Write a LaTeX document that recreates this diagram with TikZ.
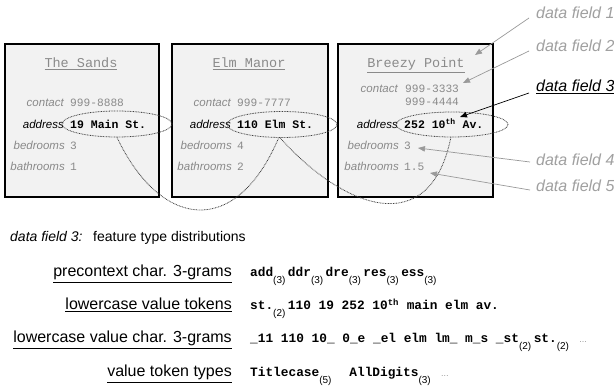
\documentclass[tikz,border=0pt]{standalone}
\usepackage{fontspec}
\setmainfont{Liberation Sans}
\setmonofont{Liberation Mono}
\usetikzlibrary{shapes.geometric,arrows.meta}
\definecolor{boxfill}{HTML}{F2F2F2}
\definecolor{lbl}{HTML}{8A8A8A}
\definecolor{fld}{HTML}{A0A0A0}
\definecolor{arr}{HTML}{9A9A9A}
\newcommand{\fs}[1]{\fontsize{#1}{#1}\selectfont}
\newcommand{\subn}[1]{\raisebox{-7pt}{\normalfont\mdseries\fs{10}#1}\hspace{2.5pt}}
\begin{document}
\begin{tikzpicture}[x=1pt,y=-1pt,
  box/.style={draw=black, line width=2pt, fill=boxfill, inner sep=0, minimum width=154pt, minimum height=153pt},
  ttl/.style={font=\ttfamily\fs{13.5}, text=lbl, inner sep=0, anchor=base},
  flab/.style={font=\itshape\fs{11.5}, text=lbl, anchor=base east, inner sep=0},
  fval/.style={font=\ttfamily\fs{11.2}, text=lbl, anchor=base west, inner sep=0},
  alab/.style={font=\itshape\fs{11.5}, text=black, anchor=base east, inner sep=0},
  aval/.style={font=\ttfamily\bfseries\fs{11.5}, text=black, anchor=base west, inner sep=0},
  ell/.style={ellipse, draw=black!75, dash pattern=on 0.8pt off 0.8pt, line width=0.8pt, inner sep=0},
  curve/.style={draw=black!75, dash pattern=on 0.8pt off 0.8pt, line width=0.8pt},
  df/.style={font=\itshape\fs{16}, text=fld, anchor=west, inner sep=1pt},
  darr/.style={draw=arr, line width=0.7pt, -{Triangle[length=7pt,width=5.5pt]}},
  rowlab/.style={font=\fs{16}, anchor=base east, inner sep=0},
  rowval/.style={font=\ttfamily\bfseries\fs{12.8}, anchor=base west, inner sep=0}
]
\useasboundingbox[fill=white] (0,0) rectangle (614,390);

% boxes
\node[box] (b1) at (82,120.5) {};
\node[box, minimum width=156pt] (b2) at (250,120.5) {};
\node[box, minimum width=155pt] (b3) at (415.5,120.5) {};

% titles
\node[ttl] (t1) at (81,68) {\underline{The Sands}};
\node[ttl] (t2) at (249,68) {\underline{Elm Manor}};
\node[ttl] (t3) at (416,68) {\underline{Breezy Point}};

% box 1
\node[flab] (c1l) at (64,107) {contact};
\node[fval] (c1v) at (70,107) {999-8888};
\node[alab] (a1l) at (64,129) {address};
\node[aval] (a1v) at (70,129) {19 Main St.};
\node[flab] (d1l) at (65,150) {bedrooms};
\node[fval] (d1v) at (70,150) {3};
\node[flab] (h1l) at (65,171) {bathrooms};
\node[fval] (h1v) at (70,171) {1};

% box 2
\node[flab] (c2l) at (231,107) {contact};
\node[fval] (c2v) at (237,107) {999-7777};
\node[alab] (a2l) at (231,129) {address};
\node[aval] (a2v) at (237,129) {110 Elm St.};
\node[flab] (d2l) at (232,150) {bedrooms};
\node[fval] (d2v) at (237,150) {4};
\node[flab] (h2l) at (232,171) {bathrooms};
\node[fval] (h2v) at (237,171) {2};

% box 3
\node[flab] (c3l) at (398,93) {contact};
\node[fval] (c3v) at (405,93) {999-3333};
\node[fval] (c3w) at (405,106) {999-4444};
\node[alab] (a3l) at (398,129) {address};
\node[aval] (a3v) at (404,129) {252 10\textsuperscript{th} Av.};
\node[flab] (d3l) at (399,150) {bedrooms};
\node[fval] (d3v) at (404,150) {3};
\node[flab] (h3l) at (399,171) {bathrooms};
\node[fval] (h3v) at (404,171) {1.5};

% ellipses
\node[ell, minimum width=110pt, minimum height=26pt] (e1) at (117,124) {};
\node[ell, minimum width=110pt, minimum height=26pt] (e2) at (282,124.5) {};
\node[ell, minimum width=112pt, minimum height=25pt] (e3) at (452,124.5) {};

% connecting curves
\draw[curve] (e1.south) .. controls (160,228) and (235,240) .. (e2.256);
\draw[curve] (e2.262) .. controls (345,210) and (430,240) .. (e3.265);

% data field labels
\node[df] (f1) at (535,13) {data field 1};
\node[df] (f2) at (535,46) {data field 2};
\node[df, text=black] (f3) at (535,87) {\underline{data field 3}};
\node[df] (f4) at (535,160) {data field 4};
\node[df] (f5) at (535,186) {data field 5};

\coordinate (p1) at (475,55);
\coordinate (p2) at (463,83);
\coordinate (p3) at (460,117);
\coordinate (p4) at (418,148);
\coordinate (p5) at (430,173);

\draw[darr] ([xshift=-6pt,yshift=-5pt]f1.west) -- (p1);
\draw[darr] ([xshift=-6pt,yshift=-5pt]f2.west) -- (p2);
\draw[darr, draw=black] ([xshift=-6pt,yshift=-6pt]f3.west) -- (p3);
\draw[darr] ([xshift=-5pt,yshift=-2pt]f4.west) -- (p4);
\draw[darr] ([xshift=-5pt,yshift=-4pt]f5.west) -- (p5);

% bottom section
\node[font=\itshape\fs{14}, anchor=base west, inner sep=0] (h1) at (10,242) {data field 3:};
\node[font=\fs{14}, anchor=base west, inner sep=0] (h2) at (93,242) {feature type distributions};

\node[rowlab] (r1l) at (232,277) {\underline{precontext char. 3-grams}};
\node[rowval] (r1v) at (250,277) {add\subn{(3)}ddr\subn{(3)}dre\subn{(3)}res\subn{(3)}ess\subn{(3)}};

\node[rowlab] (r2l) at (232,310) {\underline{lowercase value tokens}};
\node[rowval] (r2v) at (250,310) {st.\subn{(2)}110 19 252 10\textsuperscript{th} main elm av.};

\node[rowlab] (r3l) at (232,343) {\underline{lowercase value char. 3-grams}};
\node[rowval] (r3v) at (250,343) {\_11 110 10\_ 0\_e \_el elm lm\_ m\_s \_st\subn{(2)}st.\subn{(2)}\ {\normalfont\mdseries\fs{8}\textcolor{gray}{…}}};

\node[rowlab] (r4l) at (232,377) {\underline{value token types}};
\node[rowval] (r4v) at (250,377) {Titlecase\subn{(5)}\ \ AllDigits\subn{(3)}\ {\normalfont\mdseries\fs{8}\textcolor{gray}{…}}};
\end{tikzpicture}
\end{document}
